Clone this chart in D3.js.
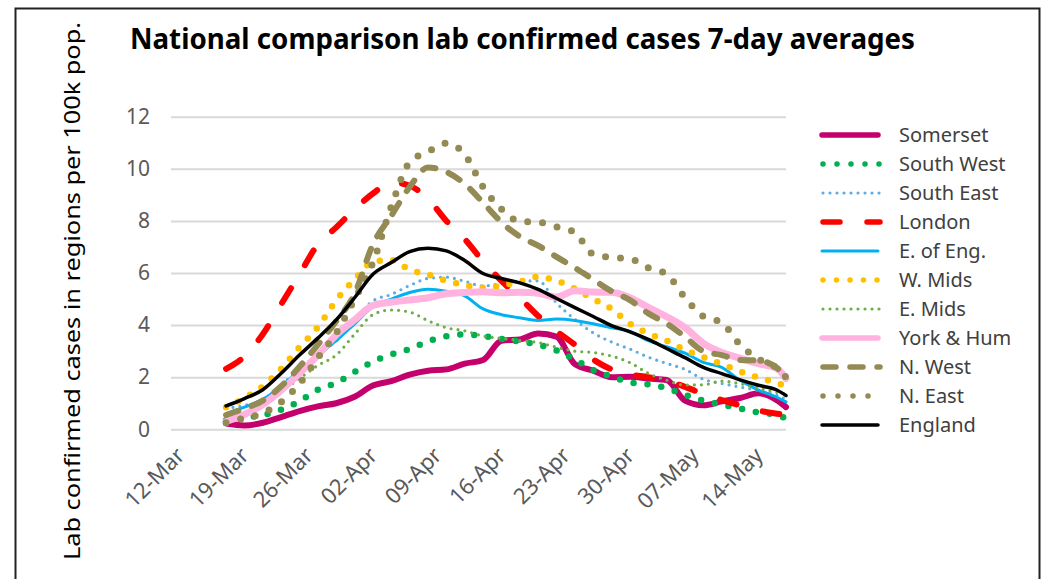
<!DOCTYPE html>
<html>
<head>
<meta charset="utf-8">
<script src="https://cdn.jsdelivr.net/npm/d3@7"></script>
<style>
  html, body { margin: 0; padding: 0; background: #fff; }
  svg { display: block; }
</style>
</head>
<body>
<svg id="chart" width="1060" height="579"></svg>
<script>
// ---------------- DATA ----------------
const dates = ["2020-03-18","2020-03-20","2020-03-22","2020-03-24","2020-03-26","2020-03-28","2020-03-30",
  "2020-04-01","2020-04-03","2020-04-05","2020-04-07","2020-04-09","2020-04-11","2020-04-13","2020-04-15",
  "2020-04-17","2020-04-19","2020-04-21","2020-04-23","2020-04-25","2020-04-27","2020-04-29",
  "2020-05-01","2020-05-03","2020-05-05","2020-05-07","2020-05-09","2020-05-11","2020-05-13",
  "2020-05-15","2020-05-17","2020-05-18"];

const xTickLabels = ["12-Mar","19-Mar","26-Mar","02-Apr","09-Apr","16-Apr","23-Apr","30-Apr","07-May","14-May"];
const yTickValues = [0, 2, 4, 6, 8, 10, 12];

const somerset  = [0.22,0.15,0.25,0.47,0.70,0.88,1.00,1.25,1.68,1.85,2.10,2.25,2.30,2.52,2.66,3.40,3.45,3.68,3.56,2.50,2.25,2.00,2.02,1.95,1.89,1.10,0.92,1.07,1.20,1.38,1.12,0.85];
const southWest = [0.35,0.45,0.54,0.75,1.08,1.52,1.78,2.20,2.60,2.87,3.08,3.38,3.57,3.64,3.58,3.47,3.37,3.25,3.03,2.68,2.27,2.03,1.80,1.72,1.58,1.32,1.10,0.95,0.80,0.64,0.55,0.42];
const southEast = [0.80,0.92,1.10,1.70,2.30,2.88,3.40,4.22,4.93,5.18,5.52,5.79,5.84,5.68,5.50,5.60,5.68,5.70,4.85,4.22,3.70,3.35,3.08,2.77,2.53,2.30,1.92,1.76,1.62,1.49,1.30,1.15];
const london    = [2.32,2.80,3.65,4.80,5.95,7.10,7.75,8.45,9.05,9.48,9.35,8.85,8.00,7.30,6.45,5.70,5.05,4.35,3.77,3.25,2.68,2.30,2.10,2.00,1.85,1.63,1.35,1.12,0.92,0.72,0.60,0.55];
const eastOfEng = [0.60,0.85,1.15,1.65,2.25,2.85,3.40,4.05,4.70,5.00,5.25,5.38,5.30,5.12,4.62,4.40,4.28,4.18,4.23,4.18,4.05,3.90,3.76,3.40,3.17,2.92,2.57,2.38,1.88,1.50,1.23,1.05];
const westMids  = [0.85,1.20,1.65,2.32,3.15,3.92,4.95,5.75,6.42,6.50,6.12,5.94,5.70,5.54,5.43,5.52,5.66,5.85,5.70,5.40,5.00,4.62,4.05,3.68,3.40,3.05,2.77,2.50,2.22,1.98,1.78,1.65];
const eastMids  = [0.35,0.55,0.95,1.45,1.95,2.45,2.85,3.65,4.40,4.58,4.50,4.17,3.90,3.78,3.58,3.49,3.41,3.33,3.15,3.00,2.95,2.81,2.56,2.15,1.88,1.70,1.71,1.85,1.75,1.58,1.42,1.35];
const yorkHum   = [0.30,0.57,0.95,1.50,2.15,2.85,3.62,4.20,4.75,4.88,4.96,5.05,5.20,5.25,5.28,5.24,5.26,5.22,5.08,5.32,5.27,5.26,5.05,4.68,4.32,3.90,3.30,2.95,2.73,2.52,2.34,1.95];
const northWest = [0.55,0.80,1.10,1.65,2.40,3.25,4.15,5.20,7.10,8.20,9.30,10.05,9.88,9.42,8.70,7.95,7.40,7.05,6.62,6.20,5.75,5.30,4.96,4.45,4.06,3.55,3.00,2.85,2.66,2.64,2.36,1.95];
const northEast = [0.25,0.43,0.62,1.05,1.75,2.75,3.70,5.00,6.40,8.55,10.25,10.65,10.98,10.55,9.30,8.45,7.98,7.95,7.77,7.55,6.72,6.60,6.55,6.20,5.95,5.05,4.33,4.10,3.25,2.70,2.35,2.00];
const england   = [0.90,1.18,1.52,2.15,2.85,3.50,4.20,5.05,5.95,6.40,6.82,6.95,6.85,6.48,5.98,5.79,5.62,5.37,5.02,4.67,4.33,3.98,3.74,3.45,3.10,2.75,2.38,2.14,1.90,1.69,1.51,1.30];

const seriesNames = ["Somerset","South West","South East","London","E. of Eng.","W. Mids","E. Mids","York & Hum","N. West","N. East","England"];
const seriesValues = [somerset, southWest, southEast, london, eastOfEng, westMids, eastMids, yorkHum, northWest, northEast, england];

// ---------------- STYLES ----------------
const styles = [
  {color:"#C3006B", width:6,   dash:null,     cap:"round"},
  {color:"#00B050", width:6.5, dash:"0 14",   cap:"round"},
  {color:"#5DADE2", width:3.2, dash:"0 7",    cap:"round"},
  {color:"#FF0000", width:6,   dash:"17 27",  cap:"round"},
  {color:"#00B0F0", width:3,   dash:null,     cap:"round"},
  {color:"#FFC000", width:6.5, dash:"0 13.5", cap:"round"},
  {color:"#70AD47", width:3.2, dash:"0 7",    cap:"round"},
  {color:"#FFB3DE", width:7,   dash:null,     cap:"round"},
  {color:"#948A54", width:6,   dash:"13 14",  cap:"round"},
  {color:"#948A54", width:7,   dash:"0 15",   cap:"round"},
  {color:"#000000", width:3.5, dash:null,     cap:"round"}
];

const FONT = "'Noto Sans', 'Open Sans', sans-serif";
const svg = d3.select("#chart");

// frame
svg.append("rect").attr("x",15.5).attr("y",8.5).attr("width",1024).attr("height",600)
  .attr("fill","none").attr("stroke","#222").attr("stroke-width",2);

const parse = d3.timeParse("%Y-%m-%d");
const parseTick = d3.timeParse("%d-%b-%Y");
const dateObjs = dates.map(parse);

const x = d3.scaleTime()
  .domain([new Date(2020,2,12), new Date(2020,4,18)])
  .range([171, 786]);
const y = d3.scaleLinear().domain([0,12]).range([429.3, 116.7]);

// y axis with gridlines
const yAxis = d3.axisLeft(y).tickValues(yTickValues).tickSize(-(786-171)).tickPadding(21).tickFormat(d3.format("d"));
const gy = svg.append("g").attr("transform","translate(171,0)").call(yAxis);
gy.select(".domain").remove();
gy.selectAll(".tick line").attr("stroke","#D9D9D9").attr("stroke-width",2);
gy.selectAll(".tick text").attr("fill","#595959").style("font-family",FONT).style("font-size","21px");

// x axis labels
const tickDates = xTickLabels.map(s => parseTick(s + "-2020"));
const xAxis = d3.axisBottom(x).tickValues(tickDates).tickSize(0).tickFormat(d3.timeFormat("%d-%b"));
const gx = svg.append("g").attr("transform","translate(0,429.3)").call(xAxis);
gx.select(".domain").remove();
gx.selectAll(".tick text")
  .attr("fill","#595959").style("font-family",FONT).style("font-size","22px")
  .attr("text-anchor","end")
  .attr("y",0).attr("dy","0.35em")
  .attr("transform","translate(9,22) rotate(-45)");

// lines
const line = d3.line()
  .x((d,i) => x(dateObjs[i]))
  .y(d => y(d))
  .curve(d3.curveMonotoneX);

const plot = svg.append("g");
seriesValues.forEach((vals, i) => {
  const s = styles[i];
  plot.append("path")
    .datum(vals)
    .attr("d", line)
    .attr("fill","none")
    .attr("stroke", s.color)
    .attr("stroke-width", s.width)
    .attr("stroke-linecap", s.cap)
    .attr("stroke-linejoin","round")
    .attr("stroke-dasharray", s.dash);
});

// legend
const lg = svg.append("g");
seriesNames.forEach((name, i) => {
  const s = styles[i];
  const cy = 135 + 29 * i;
  lg.append("line")
    .attr("x1", s.dash ? 823 : 822).attr("x2", s.dash ? 880 : 878)
    .attr("y1", cy).attr("y2", cy)
    .attr("stroke", s.color)
    .attr("stroke-width", Math.min(s.width, 5.5))
    .attr("stroke-linecap", s.cap)
    .attr("stroke-dasharray", s.dash);
  lg.append("text")
    .attr("x", 899).attr("y", cy + 7)
    .attr("fill","#404040")
    .style("font-family",FONT).style("font-size","20px")
    .text(name);
});

// title
svg.append("text")
  .attr("x", 130).attr("y", 49)
  .attr("textLength", 785).attr("lengthAdjust","spacingAndGlyphs")
  .style("font-family",FONT).style("font-size","28px").style("font-weight","bold")
  .attr("fill","#000")
  .text("National comparison lab confirmed cases 7-day averages");

// y-axis title
svg.append("text")
  .attr("transform","translate(80,291) rotate(-90)")
  .attr("text-anchor","middle")
  .attr("textLength", 538).attr("lengthAdjust","spacingAndGlyphs")
  .style("font-family",FONT).style("font-size","22px")
  .attr("fill","#000")
  .text("Lab confirmed cases in regions per 100k pop.");
</script>
</body>
</html>
